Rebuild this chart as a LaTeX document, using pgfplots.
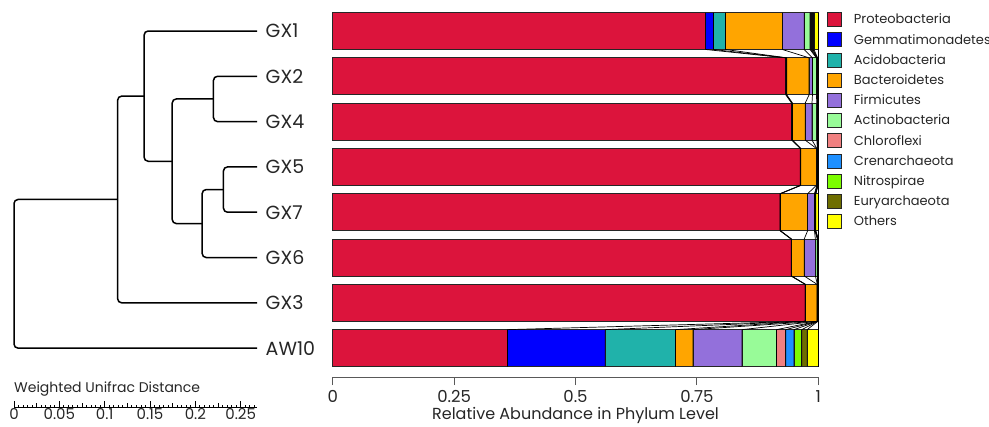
\documentclass[border=0pt]{standalone}
\usepackage{pgfplots}
\pgfplotsset{compat=1.18}
\usepackage{pgfplotstable}
\usepackage{fontspec}
\setmainfont{Poppins}

\definecolor{cPro}{HTML}{DC143C}
\definecolor{cGem}{HTML}{0000FF}
\definecolor{cAci}{HTML}{20B2AA}
\definecolor{cBac}{HTML}{FFA500}
\definecolor{cFir}{HTML}{9370DB}
\definecolor{cAct}{HTML}{98FB98}
\definecolor{cChl}{HTML}{F08080}
\definecolor{cCre}{HTML}{1E90FF}
\definecolor{cNit}{HTML}{7CFC00}
\definecolor{cEur}{HTML}{6E6E00}
\definecolor{cOth}{HTML}{FFFF00}

% relative abundance per phylum; each sample is listed twice,
% once for the upper and once for the lower edge of its bar
\pgfplotstableread{
idx edge   Pro   Gem    Aci    Bac    Fir    Act    Chl    Cre    Nit    Eur    Oth
0 -0.408 0.768 0.016  0.025  0.117  0.045  0.012  0.002  0.002  0.002  0.002  0.009
0  0.408 0.768 0.016  0.025  0.117  0.045  0.012  0.002  0.002  0.002  0.002  0.009
1  0.592 0.933 0.001  0.001  0.046  0.007  0.008  0.001  0.0005 0.0005 0.0005 0.0015
1  1.408 0.933 0.001  0.001  0.046  0.007  0.008  0.001  0.0005 0.0005 0.0005 0.0015
2  1.592 0.945 0.001  0.001  0.026  0.014  0.010  0.001  0.0005 0.0005 0.0005 0.0005
2  2.408 0.945 0.001  0.001  0.026  0.014  0.010  0.001  0.0005 0.0005 0.0005 0.0005
3  2.592 0.963 0.0005 0.0005 0.032  0.001  0.001  0.0005 0.0005 0.0003 0.0002 0.0005
3  3.408 0.963 0.0005 0.0005 0.032  0.001  0.001  0.0005 0.0005 0.0003 0.0002 0.0005
4  3.592 0.921 0.0005 0.0005 0.056  0.014  0.001  0.0005 0.0005 0.0005 0.0005 0.005
4  4.408 0.921 0.0005 0.0005 0.056  0.014  0.001  0.0005 0.0005 0.0005 0.0005 0.005
5  4.592 0.944 0.0005 0.0005 0.026  0.023  0.004  0.0005 0.0005 0.0005 0.0005 0.0
5  5.408 0.944 0.0005 0.0005 0.026  0.023  0.004  0.0005 0.0005 0.0005 0.0005 0.0
6  5.592 0.973 0.0002 0.0003 0.024  0.0005 0.0005 0.0002 0.0002 0.0002 0.0002 0.0007
6  6.408 0.973 0.0002 0.0003 0.024  0.0005 0.0005 0.0002 0.0002 0.0002 0.0002 0.0007
7  6.592 0.360 0.201  0.145  0.036  0.101  0.071  0.019  0.017  0.016  0.011  0.023
7  7.408 0.360 0.201  0.145  0.036  0.101  0.071  0.019  0.017  0.016  0.011  0.023
}\abund

\pgfplotsset{
  rowaxis/.style={
    x=485.6pt, y=45.3pt, y dir=reverse,
    xmin=0, xmax=1, ymin=-0.4, ymax=7.64,
    at={(332.7pt,414.1pt)}, anchor=north west, clip=false,
  },
  seg/.style={fill=#1, draw=black!85, line width=0.8pt},
  link/.style={black, line width=0.7pt, mark=none, solid},
  branch/.style={black, line width=1.5pt, rounded corners=4pt, mark=none, solid},
}

\begin{document}
\begin{tikzpicture}
\useasboundingbox (0,0) rectangle (989pt,427pt);

% ---------------- stacked phylum bars ----------------
\begin{axis}[
  rowaxis,
  axis x line=bottom, axis y line=none,
  x axis line style={-, draw=black!65, line width=1.1pt},
  xtick={0,0.25,0.5,0.75,1}, xticklabels={0,0.25,0.5,0.75,1},
  tick align=outside, major tick length=8pt,
  xtick style={draw=black!65, line width=1.1pt},
  xticklabel style={font=\fontsize{16.5}{18}\selectfont, text=black!85, inner sep=1pt, yshift=-4pt},
  xlabel={Relative Abundance in Phylum Level},
  xlabel style={font=\fontsize{16}{18}\selectfont, text=black!85, yshift=0pt},
  /pgf/number format/assume math mode=true,
  xbar stacked, bar width=37pt,
  each nth point=2, filter discard warning=false,
  legend image code/.code={\draw[#1, draw=black!85, line width=0.9pt] (0pt,-7pt) rectangle (14pt,7pt);},
  legend cell align=left,
  legend style={draw=none, fill=none, at={(1.0185,1.0025)}, anchor=north west,
    font=\fontsize{13}{15}\selectfont, inner sep=0pt, row sep=5.3pt, column sep=11.5pt,
    nodes={inner sep=0pt, text=black!85}},
]
\addplot[seg=cPro] table[x=Pro, y=idx] {\abund};
\addplot[seg=cGem] table[x=Gem, y=idx] {\abund};
\addplot[seg=cAci] table[x=Aci, y=idx] {\abund};
\addplot[seg=cBac] table[x=Bac, y=idx] {\abund};
\addplot[seg=cFir] table[x=Fir, y=idx] {\abund};
\addplot[seg=cAct] table[x=Act, y=idx] {\abund};
\addplot[seg=cChl] table[x=Chl, y=idx] {\abund};
\addplot[seg=cCre] table[x=Cre, y=idx] {\abund};
\addplot[seg=cNit] table[x=Nit, y=idx] {\abund};
\addplot[seg=cEur] table[x=Eur, y=idx] {\abund};
\addplot[seg=cOth] table[x=Oth, y=idx] {\abund};
\legend{Proteobacteria,Gemmatimonadetes,Acidobacteria,Bacteroidetes,Firmicutes,Actinobacteria,Chloroflexi,Crenarchaeota,Nitrospirae,Euryarchaeota,Others}
\end{axis}

% ---------------- links between neighbouring bars ----------------
\begin{axis}[rowaxis, axis lines=none, stack plots=x]
\addplot[link] table[x=Pro, y=edge] {\abund};
\addplot[link] table[x=Gem, y=edge] {\abund};
\addplot[link] table[x=Aci, y=edge] {\abund};
\addplot[link] table[x=Bac, y=edge] {\abund};
\addplot[link] table[x=Fir, y=edge] {\abund};
\addplot[link] table[x=Act, y=edge] {\abund};
\addplot[link] table[x=Chl, y=edge] {\abund};
\addplot[link] table[x=Cre, y=edge] {\abund};
\addplot[link] table[x=Nit, y=edge] {\abund};
\addplot[link] table[x=Eur, y=edge] {\abund};
\addplot[link] table[x=Oth, y=edge] {\abund};
\end{axis}

% ---------------- UPGMA tree (weighted UniFrac) ----------------
\begin{axis}[
  x=906.8pt, y=45.3pt, y dir=reverse,
  xmin=0, xmax=0.268, ymin=-0.4, ymax=8.32,
  at={(14pt,414.1pt)}, anchor=north west, clip=false,
  axis x line=bottom, axis y line=none,
  x axis line style={-, line width=1pt},
  xtick={0,0.05,0.1,0.15,0.2,0.25}, xticklabels={0,0.05,0.1,0.15,0.2,0.25},
  minor xtick={0,0.005,...,0.2651},
  extra x ticks={0.025,0.075,0.125,0.175,0.225}, extra x tick labels={},
  extra x tick style={major tick length=4.5pt},
  tick align=inside, major tick length=6.5pt, minor tick length=3pt,
  every tick/.style={black, line width=0.9pt},
  xticklabel style={font=\fontsize{15}{17}\selectfont, text=black!85, inner sep=1pt, yshift=1pt},
]
\addplot[branch] coordinates {(0.268,1) (0.220,1) (0.220,2) (0.268,2)};
\addplot[branch] coordinates {(0.268,3) (0.231,3) (0.231,4) (0.268,4)};
\addplot[branch] coordinates {(0.231,3.5) (0.2075,3.5) (0.2075,5) (0.268,5)};
\addplot[branch] coordinates {(0.220,1.5) (0.1745,1.5) (0.1745,4.25) (0.2075,4.25)};
\addplot[branch] coordinates {(0.268,0) (0.1435,0) (0.1435,2.875) (0.1745,2.875)};
\addplot[branch] coordinates {(0.1435,1.4375) (0.1143,1.4375) (0.1143,6) (0.268,6)};
\addplot[branch] coordinates {(0.1143,3.719) (0,3.719) (0,7) (0.268,7)};
\foreach \r/\s in {0/GX1,1/GX2,2/GX4,3/GX5,4/GX7,5/GX6,6/GX3,7/AW10}{
  \edef\tmp{\noexpand\node[anchor=west, font=\noexpand\fontsize{19}{21}\noexpand\selectfont, text=black!85, inner sep=0pt, xshift=8.5pt]
    at (axis cs:0.268,\r) {\s};}\tmp
}
\node[anchor=south west, inner sep=0pt, font=\fontsize{14}{16}\selectfont, text=black!85]
  at (axis cs:0,8.32) [yshift=11pt] {Weighted Unifrac Distance};
\end{axis}
\end{tikzpicture}
\end{document}
